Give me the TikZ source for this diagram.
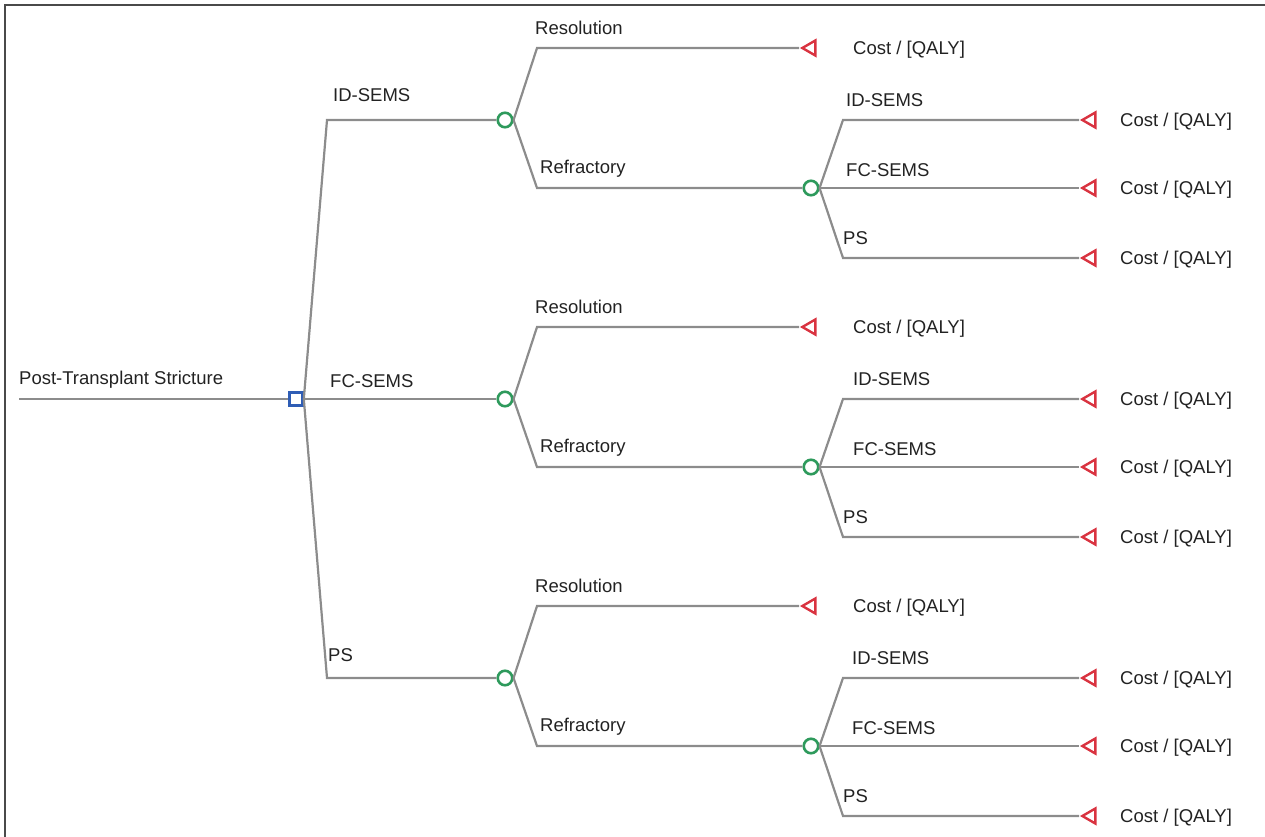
\documentclass[tikz,border=0pt]{standalone}
\usepackage{fontspec}
\setmainfont{Liberation Sans}
\usepackage{tikz}
\usetikzlibrary{shapes.geometric}
\definecolor{Branch}{HTML}{8C8C8C}
\definecolor{Decision}{HTML}{2F5DB5}
\definecolor{Chance}{HTML}{2E9A5C}
\definecolor{Terminal}{HTML}{D93340}
\definecolor{Ink}{HTML}{222222}
\definecolor{Frame}{HTML}{4A4A4A}

\tikzset{
  branch/.style={draw=Branch, line width=2.2pt},
  decision/.style={rectangle, draw=Decision, fill=white, line width=2.6pt, minimum size=13pt, inner sep=0pt},
  chance/.style={circle, draw=Chance, fill=white, line width=2.6pt, minimum size=14.5pt, inner sep=0pt},
  terminal/.style={isosceles triangle, shape border rotate=180, isosceles triangle stretches,
    draw=Terminal, fill=white, line width=2.4pt, minimum width=15pt, minimum height=13pt, inner sep=0pt},
  lbl/.style={anchor=base west, inner sep=0pt, text=Ink, font=\fontsize{18.5}{22}\selectfont},
}

\begin{document}
\begin{tikzpicture}[x=1pt, y=-1pt]
  \useasboundingbox (0,0) rectangle (1265,837);
  \draw[Frame, line width=1.5pt] (5,837) -- (5,5) -- (1265,5);

  \coordinate (root) at (19,399);
  \node[decision] (dec) at (296,399) {};
  \node[lbl] (rootlbl) at (19,384) {Post-Transplant Stricture};
  \draw[branch] (root) -- (dec.west);

  \foreach \c/\opt/\ox/\oy/\sx [count=\i] in {120/ID-SEMS/333/95/846, 399/FC-SEMS/330/381/853, 678/PS/328/655/852} {
    \node[chance] (chA\i) at (505,\c) {};
    \node[chance] (chB\i) at (811,\c+68) {};
    \node[terminal] (res\i) at (811,\c-72) {};
    \node[lbl] (opt\i) at (\ox,\oy+6.6) {\opt};
    \node[lbl] (reslbl\i) at (535,\c-92+6.6) {Resolution};
    \node[lbl] (reflbl\i) at (540,\c+47+6.6) {Refractory};
    \node[lbl] (rescost\i) at (853,\c-72+6.6) {Cost / [QALY]};
    \draw[branch] (dec.east) -- (327,\c) -- (chA\i.west);
    \draw[branch] (chA\i.east) -- (537,\c-72) -- (res\i.apex);
    \draw[branch] (chA\i.east) -- (537,\c+68) -- (chB\i.west);
    \foreach \dy/\sub/\ly/\lx [count=\j] in {0/ID-SEMS/-20/\sx, 68/FC-SEMS/50/\sx, 138/PS/118/843} {
      \node[terminal] (tB\i\j) at (1091,\c+\dy) {};
      \node[lbl] (sub\i\j) at (\lx,\c+\ly+6.6) {\sub};
      \node[lbl] (cost\i\j) at (1120,\c+\dy+6.6) {Cost / [QALY]};
      \draw[branch] (chB\i.east) -- (843,\c+\dy) -- (tB\i\j.apex);
    }
  }
\end{tikzpicture}
\end{document}
